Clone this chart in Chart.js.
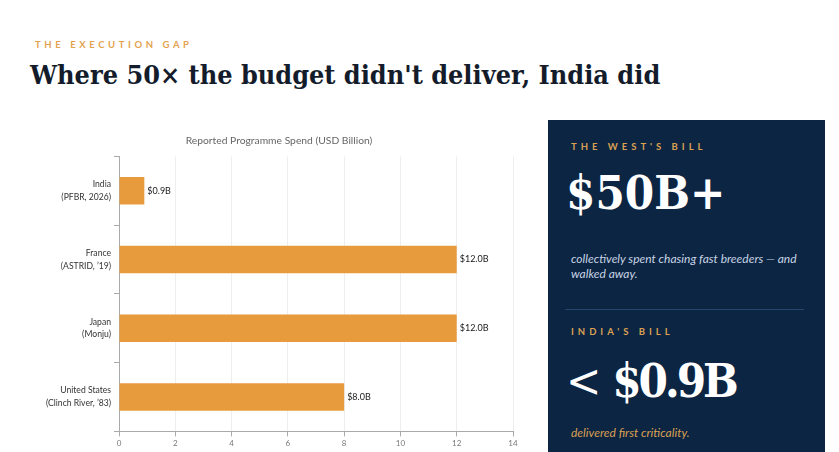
<!DOCTYPE html>
<html>
<head>
<meta charset="utf-8">
<script src="https://cdn.jsdelivr.net/npm/chart.js@4.4.0/dist/chart.umd.min.js"></script>
<style>
  html, body { margin: 0; padding: 0; background: #fff; width: 839px; height: 452px; overflow: hidden; }
  body { position: relative; font-family: Lato, sans-serif; }
  .eyebrow { position: absolute; left: 35px; top: 39px; font: 700 9.5px Lato, sans-serif; letter-spacing: 3.6px; color: #e3a24f; }
  h1 { position: absolute; left: 30px; top: 59px; margin: 0; font-family: 'DejaVu Serif', serif; font-stretch: condensed; font-weight: 700; font-size: 26.8px; color: #141c2b; white-space: nowrap; }
  #chartBox { position: absolute; left: 36px; top: 128px; width: 494px; height: 322px; }
  .panel { position: absolute; left: 548px; top: 120px; width: 277px; height: 340px; background: #0b2543; }
  .panel .lbl { position: absolute; left: 23px; font: 700 9.5px Lato, sans-serif; letter-spacing: 4px; color: #dba052; }
  .panel .big { position: absolute; left: 18px; font-family: 'DejaVu Serif', serif; font-stretch: condensed; font-weight: 700; font-size: 47px; color: #fff; white-space: nowrap; }
  .panel .big .lt { font-weight: 400; margin-right: 2px; }
  .panel .note { position: absolute; left: 23px; width: 238px; font: italic 12px/14.5px Lato, sans-serif; color: #c9d4e3; }
  .panel .rule { position: absolute; left: 17px; top: 189px; width: 239px; height: 1px; background: #24466d; }
</style>
</head>
<body>
<div class="eyebrow">THE EXECUTION GAP</div>
<h1>Where 50× the budget didn't deliver, India did</h1>
<div id="chartBox"><canvas id="spendChart"></canvas></div>
<div class="panel">
  <div class="lbl" style="top:21px">THE WEST'S BILL</div>
  <div class="big" style="top:45px">$50B+</div>
  <div class="note" style="top:132px">collectively spent chasing fast breeders — and walked away.</div>
  <div class="rule"></div>
  <div class="lbl" style="top:206px">INDIA'S BILL</div>
  <div class="big" style="top:233px; letter-spacing:-3px"><span class="lt">&lt;</span> $0.9B</div>
  <div class="note" style="top:306px; color:#dba052">delivered first criticality.</div>
</div>
<script>
// Programmes and reported spend (USD billion)
const programmes = [
    ['India', '(PFBR, 2026)'],
    ['France', '(ASTRID, ’19)'],
    ['Japan', '(Monju)'],
    ['United States', '(Clinch River, ’83)']
];
const spend = [0.9, 12, 12, 8];
const xTicks = [0, 2, 4, 6, 8, 10, 12, 14];

// draws "$12.0B" next to each bar
const valueLabels = {
    id: 'valueLabels',
    afterDatasetsDraw(chart) {
        const ctx = chart.ctx;
        const meta = chart.getDatasetMeta(0);
        ctx.save();
        ctx.font = '9px Lato, sans-serif';
        ctx.fillStyle = '#1a1a1a';
        ctx.textBaseline = 'middle';
        meta.data.forEach((bar, i) => {
            ctx.fillText('$' + spend[i].toFixed(1) + 'B', bar.x + 3, bar.y);
        });
        ctx.restore();
    }
};

const ctx = document.getElementById('spendChart').getContext('2d');
new Chart(ctx, {
    type: 'bar',
    data: {
        labels: programmes,
        datasets: [{
            data: spend,
            backgroundColor: '#e89b3c',
            borderWidth: 0,
            barPercentage: 0.8,
            categoryPercentage: 0.5
        }]
    },
    options: {
        indexAxis: 'y',
        responsive: true,
        maintainAspectRatio: false,
        animation: false,
        layout: { padding: { left: 9, right: 17, top: 0, bottom: 0 } },
        plugins: {
            legend: { display: false },
            tooltip: { enabled: false },
            title: {
                display: true,
                text: 'Reported Programme Spend (USD Billion)',
                color: '#666',
                font: { family: 'Lato', size: 10.3, weight: 'normal' },
                padding: { top: 6, bottom: 10 }
            }
        },
        scales: {
            x: {
                min: 0,
                max: 14,
                afterBuildTicks: axis => { axis.ticks = xTicks.map(v => ({ value: v })); },
                grid: { color: '#eeeeee', tickColor: '#aaaaaa', tickLength: 5 },
                border: { color: '#aaaaaa' },
                ticks: { color: '#777', font: { family: 'Lato', size: 8 }, padding: 2 }
            },
            y: {
                afterFit: axis => { axis.width = 74; },
                grid: { drawOnChartArea: false, tickColor: '#aaaaaa', tickLength: 5 },
                border: { color: '#aaaaaa' },
                ticks: { color: '#333', font: { family: 'Lato', size: 8.6, lineHeight: 1.5 }, padding: 3 }
            }
        }
    },
    plugins: [valueLabels]
});
</script>
</body>
</html>
